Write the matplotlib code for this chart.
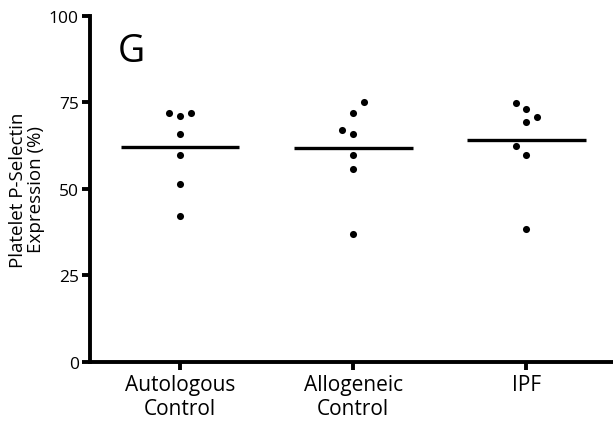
import numpy as np
import matplotlib.pyplot as plt

plt.rcParams['font.family'] = ['Open Sans', 'DejaVu Sans']

groups = ["Autologous\nControl", "Allogeneic\nControl", "IPF"]
autologous = [72.0, 70.9, 71.9, 65.9, 59.8, 51.4, 42.2]
allogeneic = [75.1, 72.0, 67.0, 65.8, 59.7, 55.8, 37.0]
ipf = [74.9, 73.0, 70.7, 69.4, 62.5, 59.7, 38.3]
# side-by-side column slot for each point (scatter spread)
autologous_slot = [-1, 0, 1, 0, 0, 0, 0]
allogeneic_slot = [1, 0, -1, 0, 0, 0, 0]
ipf_slot = [-1, 0, 1, 0, -1, 0, 0]

series = [autologous, allogeneic, ipf]
slots = [autologous_slot, allogeneic_slot, ipf_slot]

fig = plt.figure(figsize=(6.13, 4.31), dpi=100)
ax = fig.add_axes([90 / 613, 68 / 431, 1 - 90 / 613, 346.3 / 431])

for i, (vals, slot) in enumerate(zip(series, slots)):
    x = i + 1 + np.array(slot) * 0.063
    ax.scatter(x, vals, s=26, color="black", zorder=3, linewidths=0)
    m = np.mean(vals)
    ax.plot([i + 1 - 0.343, i + 1 + 0.343], [m, m], color="black", lw=2.4,
            solid_capstyle="butt", zorder=2)

ax.set_xlim(0.48, 3.5)
ax.set_ylim(0, 100)
ax.set_xticks([1, 2, 3])
ax.set_xticklabels(groups, fontsize=15, linespacing=1.15)
ax.set_yticks([0, 25, 50, 75, 100])
ax.tick_params(axis="y", labelsize=12.5, width=2.8, length=6, pad=2)
ax.tick_params(axis="x", width=2.8, length=6, pad=3)
ax.set_ylabel("Platelet P-Selectin\nExpression (%)", fontsize=13.5, linespacing=1.0, labelpad=3)

for side in ["top", "right"]:
    ax.spines[side].set_visible(False)
for side in ["left", "bottom"]:
    ax.spines[side].set_linewidth(2.8)
    ax.spines[side].set_capstyle("projecting")

ax.text(0.054, 0.869, "G", transform=ax.transAxes, fontsize=27, ha="left", va="baseline")

fig.savefig("out.png", dpi=100)
